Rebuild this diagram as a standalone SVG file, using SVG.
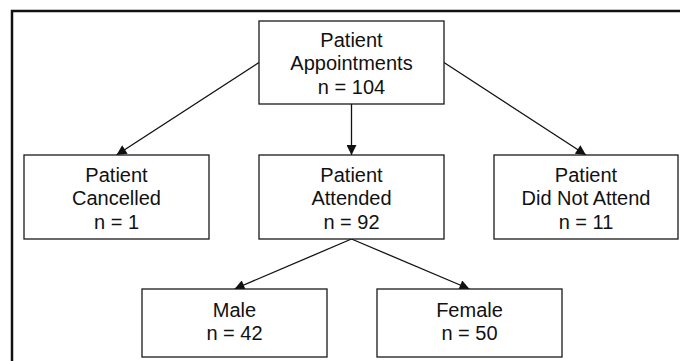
<svg xmlns="http://www.w3.org/2000/svg" width="680" height="361" viewBox="0 0 680 361">
<defs>
<style>
.box{fill:#fff;stroke:#1a1a1a;stroke-width:1.3}
.t{font-family:"Liberation Sans",Arial,sans-serif;font-size:20px;fill:#111;text-anchor:middle}
.c{stroke:#111;stroke-width:1.3;fill:none}
</style>
<marker id="ah" viewBox="0 0 10 10" refX="10" refY="5" markerWidth="11" markerHeight="10" markerUnits="userSpaceOnUse" orient="auto">
<path d="M0,0 L10,5 L0,10 Z" fill="#111"/>
</marker>
</defs>
<rect width="680" height="361" fill="#fff"/>
<path d="M12,361 V11 H680" fill="none" stroke="#111" stroke-width="2.5"/>
<g id="connectors">
<line class="c" x1="259" y1="62.5" x2="116.5" y2="155" marker-end="url(#ah)"/>
<line class="c" x1="351.5" y1="104" x2="351.5" y2="155" marker-end="url(#ah)"/>
<line class="c" x1="444" y1="62.5" x2="586" y2="155" marker-end="url(#ah)"/>
<line class="c" x1="351.5" y1="239" x2="234.5" y2="289" marker-end="url(#ah)"/>
<line class="c" x1="351.5" y1="239" x2="469.5" y2="289" marker-end="url(#ah)"/>
</g>
<g id="appointments">
<rect class="box" x="259" y="21" width="185" height="83"/>
<text class="t" x="351.5" y="46.5">Patient</text>
<text class="t" x="351.5" y="70">Appointments</text>
<text class="t" x="351.5" y="93.5">n = 104</text>
</g>
<g id="cancelled">
<rect class="box" x="24" y="155" width="185" height="84"/>
<text class="t" x="116.5" y="181.5">Patient</text>
<text class="t" x="116.5" y="205">Cancelled</text>
<text class="t" x="116.5" y="228.5">n = 1</text>
</g>
<g id="attended">
<rect class="box" x="259" y="155" width="185" height="84"/>
<text class="t" x="351.5" y="181.5">Patient</text>
<text class="t" x="351.5" y="205">Attended</text>
<text class="t" x="351.5" y="228.5">n = 92</text>
</g>
<g id="dna">
<rect class="box" x="494" y="155" width="184" height="84"/>
<text class="t" x="586" y="181.5">Patient</text>
<text class="t" x="586" y="205">Did Not Attend</text>
<text class="t" x="586" y="228.5">n = 11</text>
</g>
<g id="male">
<rect class="box" x="142" y="289" width="185" height="68"/>
<text class="t" x="234.5" y="316.5">Male</text>
<text class="t" x="234.5" y="340">n = 42</text>
</g>
<g id="female">
<rect class="box" x="377" y="289" width="185" height="68"/>
<text class="t" x="469.5" y="316.5">Female</text>
<text class="t" x="469.5" y="340">n = 50</text>
</g>
</svg>
